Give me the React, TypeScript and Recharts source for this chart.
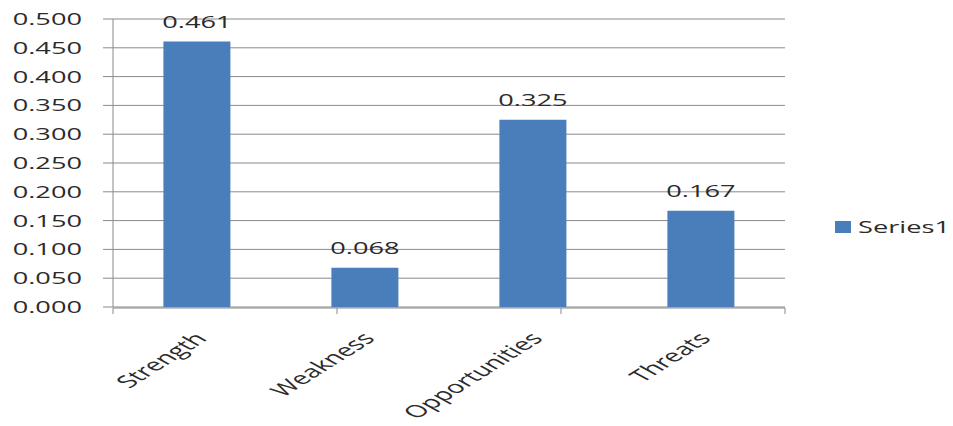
import React from 'react';
import {
  BarChart,
  Bar,
  XAxis,
  YAxis,
  CartesianGrid,
  Legend,
  LabelList,
} from 'recharts';

// Category names along the bottom axis
const categories = ['Strength', 'Weakness', 'Opportunities', 'Threats'];
// Series1 values, one per category
const series1 = [0.461, 0.068, 0.325, 0.167];
// Value-axis ticks
const yTicks = [0, 0.05, 0.1, 0.15, 0.2, 0.25, 0.3, 0.35, 0.4, 0.45, 0.5];
// Boundaries between categories, where the small tick marks sit
const edgeTicks = [0, 1, 2, 3, 4];

const data = categories.map((category, i) => ({
  category,
  value: series1[i],
}));

const FONT = "'Open Sans', sans-serif";
const TEXT = '#2b2b2b';
const BAR = '#4a7ebb';
const GRID = '#8a8a8a';
const SX = 1.7; // horizontal stretch of all lettering

const YTick = (props: any) => {
  const { x, y, payload } = props;
  return (
    <text
      transform={`translate(${x},${y}) scale(${SX},1)`}
      textAnchor="end"
      dominantBaseline="central"
      fontFamily={FONT}
      fontSize={16}
      fill={TEXT}
    >
      {Number(payload.value).toFixed(3)}
    </text>
  );
};

const XTick = (props: any) => {
  const { x, y, payload } = props;
  return (
    <text
      transform={`translate(${x + 3},${y + 28}) scale(${SX},1) rotate(-47)`}
      textAnchor="end"
      dominantBaseline="central"
      fontFamily={FONT}
      fontSize={17}
      fill={TEXT}
    >
      {payload.value}
    </text>
  );
};

// Tick marks only, no lettering, on the category-boundary axis
const NoLabel = () => null;

const ValueLabel = (props: any) => {
  const { x, y, width, value } = props;
  const cx = Number(x) + Number(width) / 2;
  const cy = Number(y) - 20;
  return (
    <text
      transform={`translate(${cx},${cy}) scale(${SX},1)`}
      textAnchor="middle"
      dominantBaseline="central"
      fontFamily={FONT}
      fontSize={16}
      fill={TEXT}
    >
      {Number(value).toFixed(3)}
    </text>
  );
};

const LegendContent = (props: any) => {
  const { payload } = props;
  return (
    <div>
      {(payload || []).map((entry: any) => (
        <div
          key={entry.value}
          style={{
            display: 'flex',
            alignItems: 'center',
            fontFamily: FONT,
            fontSize: 16,
            color: TEXT,
            whiteSpace: 'nowrap',
          }}
        >
          <span
            style={{
              display: 'inline-block',
              width: 16,
              height: 12,
              background: entry.color,
            }}
          />
          <span
            style={{
              display: 'inline-block',
              marginLeft: 7,
              transform: `scaleX(${SX})`,
              transformOrigin: 'left center',
            }}
          >
            {entry.value}
          </span>
        </div>
      ))}
    </div>
  );
};

export default function App() {
  return (
    <div
      style={{
        position: 'absolute',
        left: 0,
        top: 0,
        width: 953,
        height: 426,
        background: '#ffffff',
      }}
    >
      <BarChart
        width={953}
        height={426}
        data={data}
        margin={{ top: 19, right: 168, bottom: 117, left: 0 }}
        barCategoryGap="30%"
      >
        <CartesianGrid vertical={false} stroke={GRID} strokeDasharray="" />
        <XAxis
          xAxisId="edge"
          type="number"
          domain={[0, 4]}
          ticks={edgeTicks}
          height={1}
          axisLine={{ stroke: GRID }}
          tick={<NoLabel />}
          tickSize={6}
          tickLine={{ stroke: GRID }}
          allowDataOverflow
        />
        <XAxis
          xAxisId="cat"
          dataKey="category"
          height={1}
          tickLine={false}
          tickSize={0}
          tickMargin={0}
          axisLine={false}
          tick={<XTick />}
          interval={0}
        />
        <YAxis
          width={113}
          domain={[0, 0.5]}
          ticks={yTicks}
          interval={0}
          tickSize={10}
          tickMargin={21}
          axisLine={{ stroke: GRID }}
          tickLine={{ stroke: GRID }}
          tick={<YTick />}
        />
        <Legend
          layout="horizontal"
          align="center"
          verticalAlign="middle"
          wrapperStyle={{ left: 835, top: 216, width: 120 }}
          content={<LegendContent />}
        />
        <Bar
          xAxisId="cat"
          dataKey="value"
          name="Series1"
          fill={BAR}
          isAnimationActive={false}
        >
          <LabelList dataKey="value" content={<ValueLabel />} />
        </Bar>
      </BarChart>
    </div>
  );
}
